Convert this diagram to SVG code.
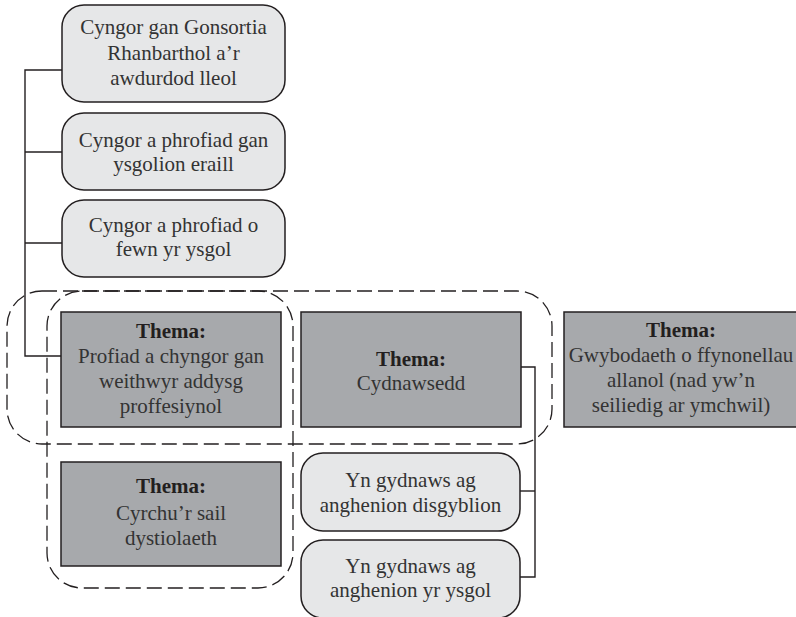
<svg xmlns="http://www.w3.org/2000/svg" width="796" height="617" viewBox="0 0 796 617">
<style>
  .light { fill: #e6e7e8; stroke: #231f20; stroke-width: 1.5; }
  .dark { fill: #a7a9ac; stroke: #231f20; stroke-width: 1.5; }
  .dash { fill: none; stroke: #231f20; stroke-width: 1.3; stroke-dasharray: 15 6; }
  .conn { fill: none; stroke: #231f20; stroke-width: 1.4; }
  text { font-family: "Liberation Serif", "Times New Roman", serif; font-size: 21px; fill: #333333; text-anchor: middle; }
  .b { font-weight: bold; fill: #231f20; }
</style>
<rect width="796" height="617" fill="#ffffff"/>
<g id="groups">
  <rect class="dash" x="7" y="291" width="545" height="153" rx="35" ry="35"/>
  <rect class="dash" x="47" y="291" width="246" height="297" rx="35" ry="35"/>
</g>
<g id="connectors">
  <polyline class="conn" points="62,70 25,70 25,356 61,356"/>
  <line class="conn" x1="25" y1="152" x2="62" y2="152"/>
  <line class="conn" x1="25" y1="243" x2="62" y2="243"/>
  <polyline class="conn" points="521,367 535,367 535,577 520,577"/>
  <line class="conn" x1="535" y1="491" x2="520" y2="491"/>
</g>
<g id="n1">
  <rect class="light" x="62" y="5" width="223" height="97" rx="22" ry="22"/>
  <text x="173.5" y="34">Cyngor gan Gonsortia</text>
  <text x="173.5" y="60">Rhanbarthol a’r</text>
  <text x="173.5" y="85">awdurdod lleol</text>
</g>
<g id="n2">
  <rect class="light" x="62" y="113" width="223" height="77" rx="22" ry="22"/>
  <text x="173.5" y="147">Cyngor a phrofiad gan</text>
  <text x="173.5" y="171">ysgolion eraill</text>
</g>
<g id="n3">
  <rect class="light" x="62" y="200" width="223" height="77" rx="22" ry="22"/>
  <text x="173.5" y="232">Cyngor a phrofiad o</text>
  <text x="173.5" y="256">fewn yr ysgol</text>
</g>
<g id="t1">
  <rect class="dark" x="61" y="312" width="220" height="115"/>
  <text class="b" x="171" y="338">Thema:</text>
  <text x="171" y="363">Profiad a chyngor gan</text>
  <text x="171" y="388">weithwyr addysg</text>
  <text x="171" y="413">proffesiynol</text>
</g>
<g id="t2">
  <rect class="dark" x="301" y="312" width="220" height="115"/>
  <text class="b" x="411" y="366">Thema:</text>
  <text x="411" y="390">Cydnawsedd</text>
</g>
<g id="t3">
  <rect class="dark" x="564" y="312" width="240" height="115"/>
  <text class="b" x="681" y="337">Thema:</text>
  <text x="681" y="362">Gwybodaeth o ffynonellau</text>
  <text x="681" y="387">allanol (nad yw’n</text>
  <text x="681" y="412">seiliedig ar ymchwil)</text>
</g>
<g id="t4">
  <rect class="dark" x="61" y="462" width="220" height="104"/>
  <text class="b" x="171" y="493">Thema:</text>
  <text x="171" y="520">Cyrchu’r sail</text>
  <text x="171" y="545">dystiolaeth</text>
</g>
<g id="n4">
  <rect class="light" x="301" y="453" width="219" height="78" rx="22" ry="22"/>
  <text x="410.5" y="487">Yn gydnaws ag</text>
  <text x="410.5" y="512">anghenion disgyblion</text>
</g>
<g id="n5">
  <rect class="light" x="301" y="540" width="219" height="78" rx="22" ry="22"/>
  <text x="410.5" y="573">Yn gydnaws ag</text>
  <text x="410.5" y="597">anghenion yr ysgol</text>
</g>
</svg>
